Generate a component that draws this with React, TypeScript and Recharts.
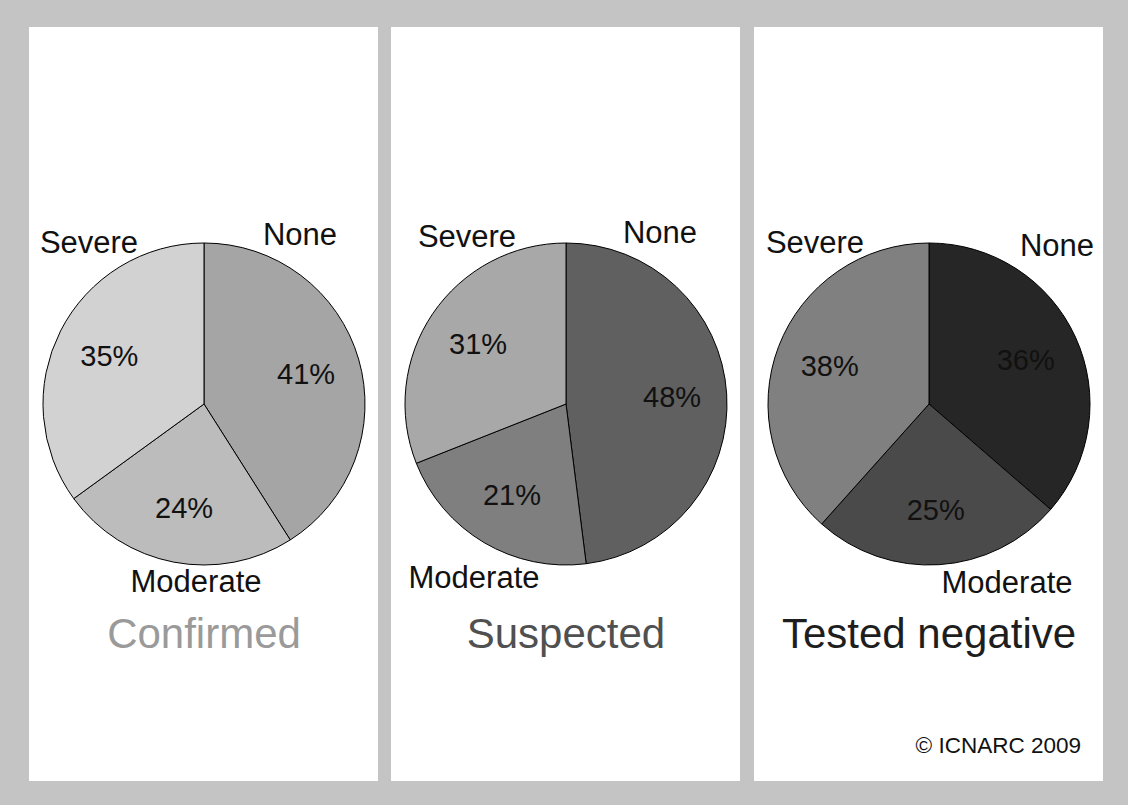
import { PieChart, Pie, Cell } from 'recharts'

const CATEGORIES = ['None', 'Moderate', 'Severe']
const GROUPS = ['Confirmed', 'Suspected', 'Tested negative']

const CONFIRMED = [41, 24, 35]
const SUSPECTED = [48, 21, 31]
const TESTED_NEGATIVE = [36, 25, 38]

const VALUES = [CONFIRMED, SUSPECTED, TESTED_NEGATIVE]

const SLICE_COLORS = [
  ['#a5a5a5', '#bcbcbc', '#d2d2d2'],
  ['#606060', '#7f7f7f', '#a8a8a8'],
  ['#262626', '#4a4a4a', '#808080'],
]
const TITLE_COLORS = ['#9a9a9a', '#505050', '#1e1e1e']

// where the category names sit, relative to the pie centre (dx, dy)
const NAME_OFFSETS = [
  [[96, -170], [-8, 177], [-115, -162]],
  [[94, -172], [-92, 173], [-99, -168]],
  [[128, -159], [78, 178], [-114, -162]],
]

const FONT = '"Liberation Sans", Arial, Helvetica, sans-serif'
const PANEL_LEFT = [29, 391, 754]
const PANEL_W = 349
const PANEL_H = 754
const RAD = Math.PI / 180

function makeLabel(panel: number) {
  return (props: any) => {
    const { cx, cy, midAngle, outerRadius, index, value } = props
    const r = outerRadius * 0.66
    const x = cx + r * Math.cos(-midAngle * RAD)
    const y = cy + r * Math.sin(-midAngle * RAD)
    const [dx, dy] = NAME_OFFSETS[panel][index]
    return (
      <g key={`lbl-${index}`}>
        <text x={x} y={y} textAnchor="middle" dominantBaseline="central"
          fill="#111" fontSize={29} fontFamily={FONT}>
          {`${value}%`}
        </text>
        <text x={cx + dx} y={cy + dy} textAnchor="middle" dominantBaseline="central"
          fill="#111" fontSize={31} fontFamily={FONT}>
          {CATEGORIES[index]}
        </text>
      </g>
    )
  }
}

function Panel({ idx }: { idx: number }) {
  const data = CATEGORIES.map((c, i) => ({ name: c, value: VALUES[idx][i] }))
  return (
    <div style={{
      position: 'absolute', left: PANEL_LEFT[idx], top: 27,
      width: PANEL_W, height: PANEL_H, background: '#fff',
    }}>
      <PieChart width={PANEL_W} height={PANEL_H} margin={{ top: 0, right: 0, bottom: 0, left: 0 }}>
        <Pie
          data={data}
          dataKey="value"
          nameKey="name"
          cx={175}
          cy={377}
          outerRadius={161}
          startAngle={90}
          endAngle={-270}
          stroke="#000"
          strokeWidth={1}
          labelLine={false}
          label={makeLabel(idx)}
          isAnimationActive={false}
        >
          {data.map((d, i) => (
            <Cell key={d.name} fill={SLICE_COLORS[idx][i]} />
          ))}
        </Pie>
      </PieChart>
      <div style={{
        position: 'absolute', left: 0, width: 350, top: 586, textAlign: 'center',
        fontFamily: FONT, fontSize: 42, lineHeight: '42px', color: TITLE_COLORS[idx],
        whiteSpace: 'nowrap',
      }}>
        {GROUPS[idx]}
      </div>
      {idx === 2 && (
        <div style={{
          position: 'absolute', right: 22, top: 708, fontFamily: FONT,
          fontSize: 22.5, lineHeight: '22.5px', color: '#111', whiteSpace: 'nowrap',
        }}>
          © ICNARC 2009
        </div>
      )}
    </div>
  )
}

export default function App() {
  return (
    <div style={{ position: 'relative', width: 1128, height: 805, background: '#c4c4c4', overflow: 'hidden' }}>
      <style>{'body{margin:0}'}</style>
      {GROUPS.map((g, i) => <Panel key={g} idx={i} />)}
    </div>
  )
}
